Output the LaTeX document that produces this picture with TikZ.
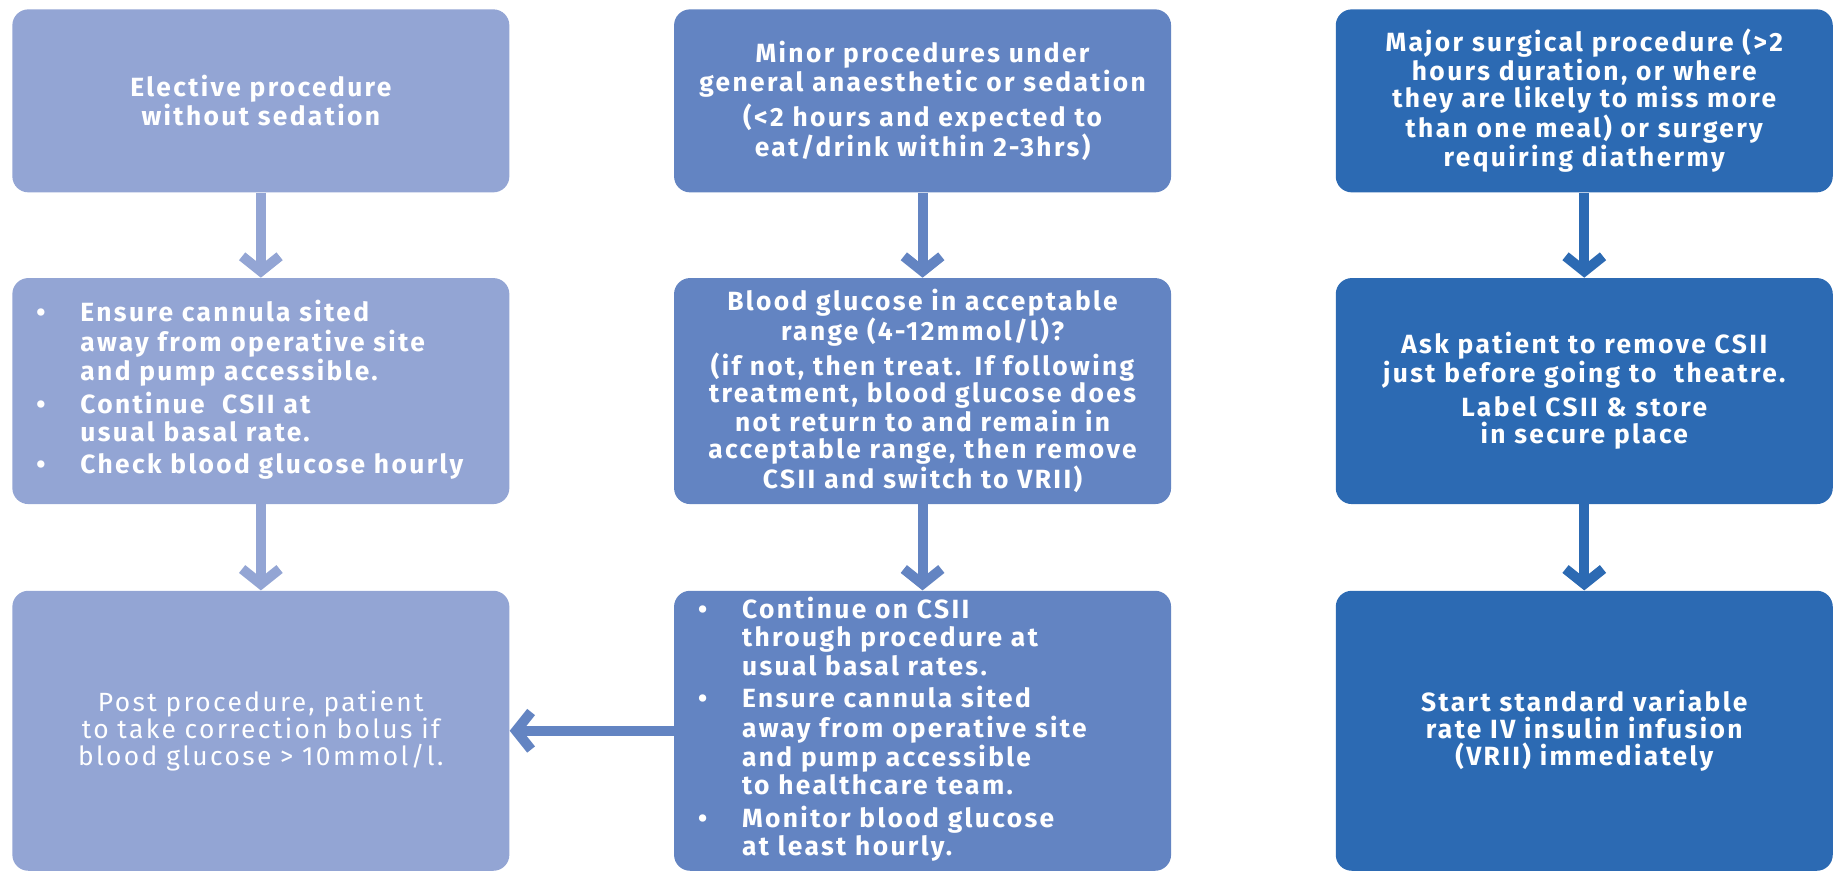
\documentclass[tikz,border=0pt]{standalone}
\usepackage{fontspec}
\setmainfont{Fira Sans}[LetterSpace=9]
\usepackage{xcolor}
\usetikzlibrary{arrows.meta,positioning}
\definecolor{paleblue}{RGB}{147,165,212}
\definecolor{midblue}{RGB}{99,132,194}
\definecolor{deepblue}{RGB}{44,106,179}
\setlength{\lineskiplimit}{-20pt}
\setlength{\lineskip}{0pt}

\begin{document}
\begin{tikzpicture}[>={Straight Barb[length=0.3cm,width=0.75cm]},
node distance=1.7cm and 3.28cm,
every node/.style={text=white, font=\fontsize{15}{15.3}\selectfont\bfseries}]

\tikzstyle{box}=[rectangle, rounded corners=0.32cm, text width=8.98cm, inner xsep=0.48cm, inner ysep=0pt, align=center, draw=none]
\tikzstyle{flow}=[->, line width=0.2cm]

\useasboundingbox (0,0) rectangle (36.7,-17.4);

%top row
\node[box, fill=paleblue, minimum height=3.66cm, anchor=north west] (elective) at (0.24,-0.18)
{Elective procedure\\without sedation};
\node[box, fill=midblue, minimum height=3.66cm, right=of elective] (minor)
{Minor procedures under\\general anaesthetic or sedation\\[2.5pt](<2 hours and expected to\\eat/drink within 2-3hrs)};
\node[box, fill=deepblue, minimum height=3.66cm, right=of minor] (major)
{Major surgical procedure (>2\\hours duration, or where\\they are likely to miss more\\than one meal) or surgery\\requiring diathermy};

%middle row
\node[box, fill=paleblue, minimum height=4.52cm, below=of elective, align=left] (ensure)
{\begin{tabular}{@{}p{0.88cm}@{}l@{}}
\textbullet & Ensure cannula sited\\
 & away from operative site\\
 & and pump accessible.\\[2pt]
\textbullet & Continue \ CSII at\\
 & usual basal rate.\\[2pt]
\textbullet & Check blood glucose hourly
\end{tabular}};
\node[box, fill=midblue, minimum height=4.52cm, below=of minor] (range)
{Blood glucose in acceptable\\range (4-12mmol/l)?\\[2.5pt](if not, then treat. If following\\treatment, blood glucose does\\not return to and remain in\\acceptable range, then remove\\CSII and switch to VRII)};
\node[box, fill=deepblue, minimum height=4.52cm, below=of major] (remove)
{Ask patient to remove CSII\\just before going to \ theatre.\\[4pt]Label CSII \& store\\in secure place};

%bottom row
\node[box, fill=paleblue, minimum height=5.6cm, below=1.72cm of ensure, font=\fontsize{15}{15.3}\selectfont] (post)
{Post procedure, patient\\to take correction bolus if\\blood glucose > 10mmol/l.};
\node[box, fill=midblue, minimum height=5.6cm, below=1.72cm of range, align=left] (continue)
{\begin{tabular}{@{}p{0.88cm}@{}l@{}}
\textbullet & Continue on CSII\\
 & through procedure at\\
 & usual basal rates.\\[2pt]
\textbullet & Ensure cannula sited\\
 & away from operative site\\
 & and pump accessible\\
 & to healthcare team.\\[2pt]
\textbullet & Monitor blood glucose\\
 & at least hourly.
\end{tabular}};
\node[box, fill=deepblue, minimum height=5.6cm, below=1.72cm of remove] (vrii)
{Start standard variable\\rate IV insulin infusion\\(VRII) immediately};

\draw[flow, paleblue] (elective) -- (ensure);
\draw[flow, paleblue] (ensure) -- (post);
\draw[flow, midblue] (minor) -- (range);
\draw[flow, midblue] (range) -- (continue);
\draw[flow, deepblue] (major) -- (remove);
\draw[flow, deepblue] (remove) -- (vrii);
\draw[flow, midblue] (continue) -- (post);

\end{tikzpicture}
\end{document}
